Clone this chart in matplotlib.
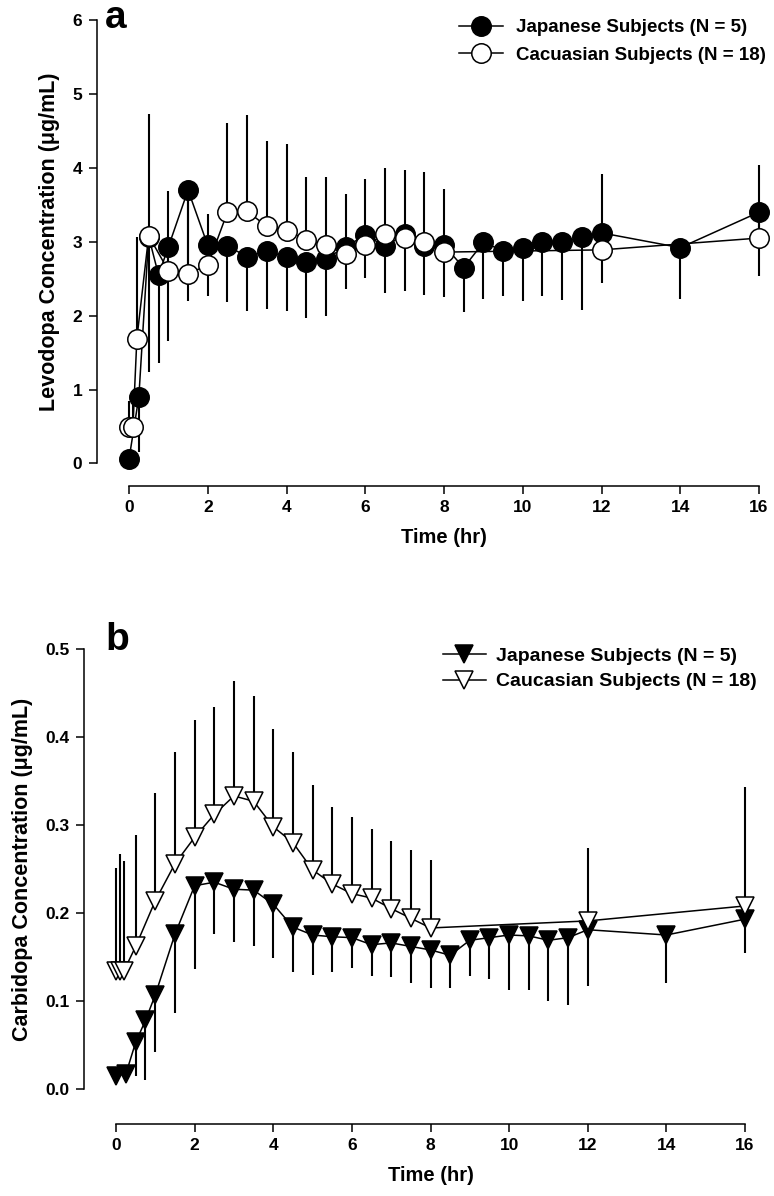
import matplotlib
matplotlib.use("Agg")
import numpy as np
import matplotlib.pyplot as plt

plt.rcParams['font.family'] = ['Liberation Sans', 'DejaVu Sans']
plt.rcParams['font.weight'] = 'bold'
plt.rcParams['axes.labelweight'] = 'bold'

# ---- panel a: levodopa (ug/mL) ----
jp_time = [0, 0.25, 0.5, 0.75, 1, 1.5, 2, 2.5, 3, 3.5, 4, 4.5, 5, 5.5, 6, 6.5, 7, 7.5,
           8, 8.5, 9, 9.5, 10, 10.5, 11, 11.5, 12, 14, 16]
ca_time = [0, 0.1, 0.2, 0.5, 1, 1.5, 2, 2.5, 3, 3.5, 4, 4.5, 5, 5.5, 6, 6.5, 7, 7.5, 8, 12, 16]

jp_levo = [0.06, 0.90, 3.07, 2.55, 2.93, 3.70, 2.95, 2.94, 2.80, 2.87, 2.80, 2.72, 2.77, 2.93,
           3.09, 2.94, 3.10, 2.94, 2.95, 2.65, 2.99, 2.88, 2.92, 2.99, 2.99, 3.06, 3.12, 2.92, 3.40]
jp_levo_low = [0.06, 0.16, 1.24, 1.36, 1.66, 2.20, 2.27, 2.19, 2.06, 2.09, 2.06, 1.97, 1.99, 2.36,
               2.51, 2.30, 2.33, 2.28, 2.25, 2.05, 2.23, 2.26, 2.20, 2.26, 2.21, 2.08, 2.44, 2.22, 2.53]
ca_levo = [0.50, 0.50, 1.69, 3.08, 2.61, 2.57, 2.68, 3.40, 3.41, 3.21, 3.15, 3.03, 2.95, 2.83,
           2.95, 3.10, 3.05, 2.99, 2.86, 2.89, 3.05]
ca_levo_high = [0.84, 0.80, 3.07, 4.73, 3.68, 3.60, 3.38, 4.61, 4.72, 4.36, 4.32, 3.88, 3.87, 3.65,
                3.85, 4.00, 3.97, 3.95, 3.72, 3.91, 4.04]

# ---- panel b: carbidopa (ug/mL) ----
jp_carbi = [0.015, 0.017, 0.053, 0.078, 0.107, 0.176, 0.231, 0.235, 0.227, 0.226, 0.210, 0.184,
            0.175, 0.173, 0.172, 0.164, 0.166, 0.162, 0.158, 0.152, 0.169, 0.172, 0.175, 0.174,
            0.169, 0.172, 0.181, 0.175, 0.193]
jp_carbi_low = [0.015, 0.017, 0.015, 0.010, 0.042, 0.086, 0.136, 0.176, 0.167, 0.162, 0.149, 0.133,
                0.130, 0.133, 0.138, 0.128, 0.127, 0.120, 0.115, 0.115, 0.128, 0.125, 0.113, 0.113,
                0.100, 0.095, 0.117, 0.120, 0.155]
ca_carbi = [0.134, 0.134, 0.134, 0.162, 0.214, 0.256, 0.286, 0.312, 0.333, 0.327, 0.298, 0.280,
            0.249, 0.233, 0.222, 0.217, 0.205, 0.194, 0.183, 0.191, 0.208]
ca_carbi_high = [0.251, 0.267, 0.259, 0.289, 0.336, 0.383, 0.419, 0.434, 0.464, 0.447, 0.409, 0.383,
                 0.345, 0.320, 0.309, 0.296, 0.282, 0.272, 0.260, 0.274, 0.343]


def draw_panel(ax, jp_y, jp_low, ca_y, ca_high, marker, jp_label, ca_label, ms):
    jp_y = np.array(jp_y)
    ca_y = np.array(ca_y)
    jp_err = [jp_y - np.array(jp_low), np.zeros(len(jp_y))]
    ca_err = [np.zeros(len(ca_y)), np.array(ca_high) - ca_y]
    ax.errorbar(jp_time, jp_y, yerr=jp_err, fmt='none', ecolor='black', elinewidth=1.5,
                capsize=0, zorder=1, clip_on=False)
    ax.errorbar(ca_time, ca_y, yerr=ca_err, fmt='none', ecolor='black', elinewidth=1.5,
                capsize=0, zorder=1, clip_on=False)
    ax.plot(jp_time, jp_y, color='black', lw=1.1, marker=marker, ms=ms, mfc='black',
            mec='black', mew=1.1, label=jp_label, zorder=3, clip_on=False)
    ax.plot(ca_time, ca_y, color='black', lw=1.1, marker=marker, ms=ms, mfc='white',
            mec='black', mew=1.1, label=ca_label, zorder=4, clip_on=False)


def style_axes(ax, ymax, yticks, ylabel, x_out):
    ax.set_xlim(0, 16)
    ax.set_ylim(0, ymax)
    for s in ['top', 'right']:
        ax.spines[s].set_visible(False)
    ax.spines['left'].set_position(('outward', 23))
    ax.spines['bottom'].set_position(('outward', x_out))
    ax.spines['left'].set_bounds(0, ymax)
    ax.spines['bottom'].set_bounds(0, 16)
    ax.spines['left'].set_linewidth(1.1)
    ax.spines['bottom'].set_linewidth(1.1)
    ax.set_xticks(range(0, 17, 2))
    ax.set_yticks(yticks)
    ax.tick_params(direction='out', length=5.5, width=1.1, labelsize=12.5, pad=5)
    ax.set_xlabel('Time (hr)', fontsize=14.5, labelpad=9)
    ax.set_ylabel(ylabel, fontsize=15.5, labelpad=9)


fig = plt.figure(figsize=(7.74, 11.96), dpi=100)
ax1 = fig.add_axes([129 / 774, 1 - 463.5 / 1196, 630 / 774, 443.5 / 1196])
ax2 = fig.add_axes([116 / 774, 1 - 1089 / 1196, 629 / 774, 440 / 1196])

draw_panel(ax1, jp_levo, jp_levo_low, ca_levo, ca_levo_high, 'o',
           'Japanese Subjects (N = 5)', 'Cacuasian Subjects (N = 18)', 14)
style_axes(ax1, 6, range(0, 7), 'Levodopa Concentration (\u03bcg/mL)', 16)
ax1.legend(loc='upper left', bbox_to_anchor=(459 / 774, 1 - 19 / 1196),
           bbox_transform=fig.transFigure, frameon=False, borderpad=0, borderaxespad=0,
           fontsize=13.5, handlelength=2.35, handletextpad=0.7, labelspacing=0.55)

draw_panel(ax2, jp_carbi, jp_carbi_low, ca_carbi, ca_carbi_high, 'v',
           'Japanese Subjects (N = 5)', 'Caucasian Subjects (N = 18)', 12.5)
style_axes(ax2, 0.5, [0, 0.1, 0.2, 0.3, 0.4, 0.5], 'Carbidopa Concentration (\u03bcg/mL)', 25)
ax2.yaxis.set_major_formatter(matplotlib.ticker.FormatStrFormatter('%.1f'))
ax2.legend(loc='upper left', bbox_to_anchor=(443 / 774, 1 - 647 / 1196),
           bbox_transform=fig.transFigure, frameon=False, borderpad=0, borderaxespad=0,
           fontsize=14, handlelength=2.2, handletextpad=0.55, labelspacing=0.42)

fig.text(105 / 774, 1 - 28 / 1196, 'a', fontsize=28, fontweight='bold')
fig.text(105 / 774, 1 - 650 / 1196, 'b', fontsize=28, fontweight='bold')

fig.savefig('out.png', dpi=100)
